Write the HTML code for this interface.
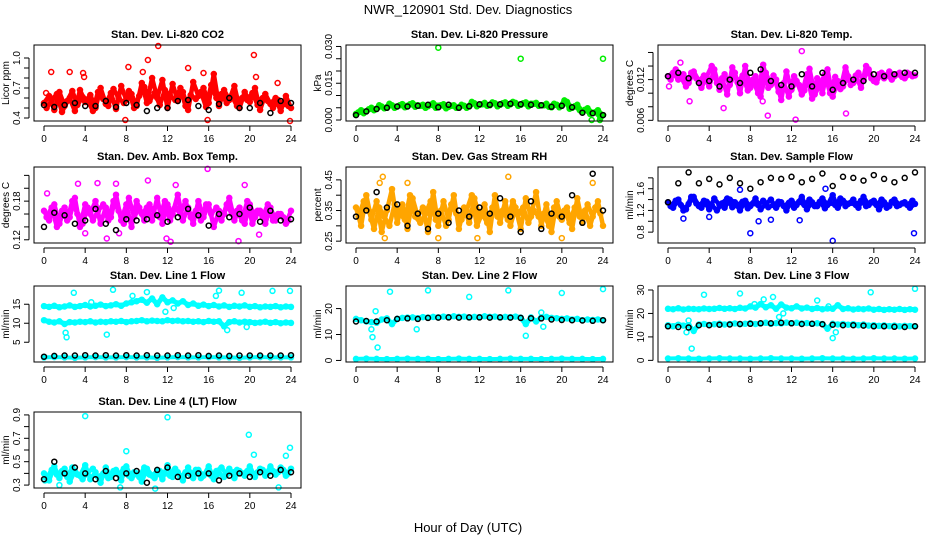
<!DOCTYPE html>
<html><head><meta charset="utf-8"><style>
html,body{margin:0;padding:0;background:#fff;}
svg{display:block;font-family:"Liberation Sans",Arial,sans-serif;}
</style></head><body>
<svg id="chart" width="936" height="540" viewBox="0 0 936 540" xmlns="http://www.w3.org/2000/svg">
<rect x="0" y="0" width="936" height="540" fill="#fff"/>
<text x="468" y="14" font-size="13" text-anchor="middle">NWR_120901  Std. Dev. Diagnostics</text>
<text x="468" y="532" font-size="13" text-anchor="middle">Hour of Day (UTC)</text>
</svg>
<script>
// ---- data arrays ----
const xTicks = [0,4,8,12,16,20,24];

const co2A = [0.55,0.62,0.48,0.66,0.52,0.60,0.47,0.68,0.56,0.63,0.50,0.70,0.54,0.65,0.49,0.72,0.58,0.64,0.52,0.75,0.55,0.80,0.60,0.78,0.50,0.74,0.57,0.66,0.48,0.76,0.62,0.70,0.55,0.84,0.52,0.68,0.58,0.72,0.50,0.66,0.56,0.70,0.48,0.64,0.54,0.60,0.47,0.62,0.50];
const co2B = [0.50,0.58,0.64,0.46,0.57,0.67,0.53,0.61,0.58,0.47,0.66,0.59,0.52,0.69,0.60,0.55,0.67,0.50,0.62,0.71,0.57,0.65,0.53,0.68,0.62,0.58,0.70,0.52,0.63,0.59,0.66,0.51,0.73,0.60,0.64,0.55,0.62,0.52,0.60,0.58,0.65,0.53,0.60,0.57,0.50,0.58,0.54,0.52];
const co2OutH = [0.7,2.5,3.8,3.9,8.2,9.6,10.1,11.1,14.0,15.5,20.4,20.6,22.7,7.9,15.9,23.9,0.2];
const co2OutV = [0.86,0.86,0.85,0.81,0.91,0.86,0.98,1.12,0.90,0.85,1.03,0.81,0.75,0.38,0.38,0.37,0.65];
const co2Blk = [0.53,0.51,0.53,0.55,0.52,0.52,0.57,0.51,0.55,0.53,0.47,0.50,0.50,0.57,0.58,0.52,0.48,0.54,0.60,0.50,0.50,0.55,0.45,0.57,0.55];

const prsA = [0.0025,0.0040,0.0035,0.0050,0.0045,0.0055,0.0050,0.0060,0.0055,0.0065,0.0058,0.0068,0.0060,0.0062,0.0056,0.0068,0.0058,0.0064,0.0054,0.0060,0.0052,0.0058,0.0055,0.0068,0.0062,0.0070,0.0060,0.0068,0.0062,0.0072,0.0064,0.0070,0.0062,0.0072,0.0066,0.0070,0.0060,0.0066,0.0052,0.0062,0.0058,0.0074,0.0050,0.0062,0.0035,0.0048,0.0030,0.0040,0.0020];
const prsB = [0.0032,0.0028,0.0044,0.0040,0.0060,0.0048,0.0066,0.0050,0.0060,0.0052,0.0064,0.0054,0.0058,0.0050,0.0062,0.0050,0.0060,0.0048,0.0058,0.0050,0.0062,0.0050,0.0074,0.0056,0.0064,0.0058,0.0072,0.0056,0.0068,0.0058,0.0074,0.0058,0.0068,0.0056,0.0066,0.0058,0.0060,0.0054,0.0066,0.0052,0.0080,0.0046,0.0056,0.0040,0.0042,0.0025,0.0032,0.0010];
const prsOutH = [8.0,16.0,24.0,22.9,23.7];
const prsOutV = [0.0295,0.0250,0.0250,0.0000,0.0000];
const prsBlk = [0.0020,0.0035,0.0045,0.0050,0.0055,0.0055,0.0058,0.0062,0.0052,0.0062,0.0050,0.0056,0.0064,0.0062,0.0064,0.0066,0.0064,0.0062,0.0060,0.0054,0.0058,0.0052,0.0030,0.0028,0.0020];

const tmpA = [0.0125,0.0130,0.0120,0.0128,0.0115,0.0132,0.0118,0.0126,0.0110,0.0135,0.0105,0.0128,0.0112,0.0130,0.0100,0.0140,0.0108,0.0125,0.0095,0.0130,0.0112,0.0120,0.0090,0.0132,0.0105,0.0118,0.0098,0.0128,0.0092,0.0122,0.0100,0.0135,0.0095,0.0118,0.0110,0.0125,0.0115,0.0130,0.0120,0.0135,0.0118,0.0128,0.0122,0.0132,0.0125,0.0130,0.0122,0.0128,0.0126];
const tmpB = [0.0120,0.0135,0.0124,0.0110,0.0130,0.0122,0.0108,0.0124,0.0140,0.0115,0.0122,0.0098,0.0138,0.0116,0.0126,0.0104,0.0120,0.0100,0.0142,0.0108,0.0126,0.0102,0.0115,0.0095,0.0125,0.0112,0.0104,0.0136,0.0098,0.0112,0.0128,0.0100,0.0124,0.0106,0.0138,0.0112,0.0126,0.0108,0.0140,0.0122,0.0116,0.0130,0.0126,0.0120,0.0128,0.0124,0.0130,0.0125];
const tmpOutH = [0.1,1.2,2.1,5.4,9.7,12.4,13.0,17.3,9.2];
const tmpOutV = [0.0110,0.0145,0.0088,0.0078,0.0067,0.0061,0.0162,0.0070,0.0088];
const tmpBlk = [0.0125,0.0130,0.0122,0.0115,0.0118,0.0110,0.0120,0.0115,0.0130,0.0135,0.0118,0.0112,0.0110,0.0128,0.0110,0.0130,0.0105,0.0115,0.0120,0.0118,0.0128,0.0125,0.0128,0.0130,0.0130];

const ambA = [0.165,0.150,0.175,0.145,0.170,0.155,0.185,0.140,0.175,0.160,0.180,0.145,0.170,0.155,0.190,0.150,0.175,0.140,0.180,0.160,0.170,0.150,0.185,0.145,0.175,0.160,0.190,0.150,0.170,0.145,0.180,0.155,0.175,0.140,0.165,0.160,0.185,0.150,0.170,0.145,0.175,0.155,0.165,0.145,0.170,0.150,0.160,0.145,0.165];
const ambB = [0.155,0.170,0.140,0.165,0.150,0.180,0.160,0.145,0.170,0.150,0.165,0.175,0.150,0.180,0.165,0.145,0.185,0.155,0.170,0.150,0.175,0.160,0.155,0.180,0.150,0.170,0.160,0.180,0.155,0.165,0.150,0.175,0.160,0.170,0.150,0.175,0.160,0.165,0.150,0.180,0.145,0.165,0.155,0.175,0.150,0.160,0.155,0.150];
const ambOutH = [0.3,3.3,5.2,7.0,10.1,12.8,15.9,19.5,6.1,11.9,12.3,18.9,20.9,7.3,4.0];
const ambOutV = [0.192,0.207,0.208,0.207,0.212,0.205,0.230,0.205,0.122,0.122,0.117,0.118,0.128,0.130,0.130];
const ambBlk = [0.140,0.162,0.158,0.145,0.150,0.168,0.145,0.135,0.152,0.150,0.152,0.158,0.148,0.155,0.168,0.158,0.142,0.160,0.155,0.160,0.170,0.148,0.165,0.150,0.152];

const rhA = [0.36,0.30,0.40,0.32,0.38,0.28,0.35,0.42,0.31,0.37,0.29,0.39,0.33,0.36,0.28,0.41,0.30,0.38,0.32,0.40,0.29,0.36,0.31,0.39,0.33,0.37,0.28,0.40,0.31,0.38,0.30,0.36,0.29,0.39,0.33,0.41,0.30,0.37,0.28,0.38,0.32,0.36,0.29,0.39,0.31,0.37,0.33,0.38,0.30];
const rhB = [0.33,0.38,0.35,0.29,0.36,0.33,0.30,0.37,0.34,0.32,0.40,0.33,0.31,0.34,0.38,0.32,0.35,0.30,0.37,0.34,0.32,0.35,0.40,0.30,0.34,0.31,0.36,0.33,0.35,0.32,0.38,0.34,0.36,0.31,0.35,0.33,0.34,0.30,0.36,0.33,0.35,0.31,0.36,0.33,0.35,0.30,0.36,0.34];
const rhOutH = [2.3,2.6,5.0,14.8,23.0,2.8,8.0,11.8,20.0];
const rhOutV = [0.44,0.46,0.44,0.46,0.44,0.26,0.26,0.26,0.26];
const rhBlk = [0.33,0.35,0.41,0.36,0.37,0.30,0.34,0.29,0.34,0.31,0.35,0.33,0.36,0.34,0.39,0.33,0.28,0.38,0.29,0.34,0.33,0.40,0.31,0.47,0.35];

const sfA = [1.35,1.25,1.40,1.20,1.32,1.45,1.28,1.38,1.22,1.42,1.30,1.25,1.40,1.35,1.20,1.38,1.28,1.42,1.22,1.32,1.40,1.25,1.35,1.20,1.38,1.30,1.45,1.22,1.35,1.28,1.42,1.30,1.48,1.25,1.38,1.32,1.40,1.25,1.45,1.30,1.38,1.22,1.35,1.28,1.40,1.30,1.35,1.25,1.32];
const sfB = [1.28,1.38,1.30,1.22,1.45,1.33,1.25,1.36,1.30,1.20,1.33,1.42,1.26,1.30,1.36,1.24,1.33,1.30,1.38,1.26,1.30,1.36,1.28,1.34,1.25,1.36,1.30,1.40,1.28,1.36,1.24,1.34,1.30,1.42,1.28,1.34,1.30,1.38,1.28,1.35,1.30,1.40,1.25,1.36,1.28,1.33,1.30,1.38];
const sfOutH = [1.5,4.0,8.0,8.8,10.0,12.8,16.0,23.9,7.0,15.3];
const sfOutV = [1.05,1.08,0.78,1.0,1.03,1.02,0.64,0.78,1.58,1.60];
const sfBlk = [1.35,1.70,1.90,1.70,1.78,1.68,1.80,1.70,1.60,1.72,1.80,1.78,1.82,1.72,1.78,1.88,1.65,1.82,1.80,1.75,1.85,1.78,1.72,1.80,1.90];

const l1A = [14.5,14.3,14.6,14.2,14.4,14.7,14.3,14.5,14.8,14.4,14.6,14.9,14.5,14.7,15.0,14.6,15.2,15.5,15.8,16.2,15.4,16.5,15.0,16.8,15.5,16.0,15.2,15.8,14.8,15.2,14.6,14.9,14.5,14.8,14.4,14.7,14.3,14.6,14.4,14.7,14.3,14.5,14.2,14.4,14.3,14.5,14.2,14.4,14.3];
const l1B = [10.8,10.4,10.2,10.5,9.8,10.3,10.2,10.4,10.3,10.5,10.2,10.4,10.3,10.5,10.4,10.6,10.3,10.5,10.6,10.8,10.5,10.7,10.6,10.5,10.8,10.6,10.7,10.5,10.6,10.4,10.5,10.3,10.6,10.4,10.5,9.2,10.3,10.5,10.2,10.4,10.3,10.1,10.2,10.4,10.1,10.3,10.0,10.2,10.1];
const l1C = [1.0,1.1,1.0,0.9,1.0,1.1,1.0,1.0,1.1,1.0,1.0,0.9,1.0,1.1,1.0,1.0,1.1,1.0,1.0,0.9,1.0,1.1,1.0,1.0,1.0];
const l1OutH = [2.1,2.2,2.9,4.6,6.1,6.7,8.6,10.0,11.8,12.6,16.7,17.0,19.2,22.2,23.9,17.8,19.7];
const l1OutV = [7.5,6.3,18.0,15.5,7.0,18.8,17.2,18.2,13.0,14.0,17.2,18.6,18.0,18.5,18.5,8.2,9.0];
const l1Blk = [1.2,1.4,1.5,1.5,1.6,1.5,1.6,1.5,1.6,1.5,1.6,1.5,1.5,1.6,1.5,1.6,1.4,1.5,1.4,1.5,1.5,1.5,1.5,1.5,1.6];

const l2A = [16.0,15.5,15.0,14.8,14.5,15.8,16.2,14.0,16.0,16.4,16.5,16.6,16.3,16.7,16.5,16.8,16.6,16.9,16.7,17.0,16.8,16.9,16.6,16.8,16.7,17.0,16.8,16.9,16.6,16.8,16.7,16.9,16.5,14.0,16.6,15.0,16.5,16.8,16.4,16.3,16.0,16.2,15.8,16.0,15.5,15.8,15.6,15.8,15.5];
const l2C = [0.6,0.7,0.6,0.5,0.6,0.7,0.6,0.6,0.5,0.6,0.7,0.6,0.6,0.5,0.6,0.7,0.6,0.6,0.5,0.6,0.7,0.6,0.6,0.5,0.6];
const l2OutH = [1.5,1.6,1.9,2.1,3.3,5.9,7.0,11.0,14.8,16.5,18.0,18.2,20.0,24.0];
const l2OutV = [12,9,19,5,26.5,12,27,24.5,27,9.5,18.5,13,26,27.5];
const l2Blk = [15.0,15.2,15.0,15.5,16.0,16.2,16.0,16.4,16.5,16.6,16.5,16.6,16.6,16.5,16.6,16.5,16.4,16.3,16.2,15.8,15.6,15.5,15.4,15.3,15.5];

const l3A = [22.0,21.8,22.2,21.7,22.0,21.9,21.8,22.1,21.9,22.0,22.3,22.0,22.2,21.9,22.4,22.1,23.0,22.5,24.0,22.6,23.5,22.0,23.8,22.5,22.2,23.0,22.1,22.5,21.9,22.3,21.8,22.1,22.0,23.5,21.9,22.2,21.7,22.0,21.8,22.1,21.6,21.9,21.5,21.8,21.6,21.9,21.5,21.8,21.6];
const l3B = [15.0,14.5,15.2,14.8,15.0,12.5,15.3,15.5,15.1,15.4,15.6,15.3,15.5,15.7,15.4,15.6,15.8,15.5,15.7,16.0,15.6,15.9,15.7,16.1,15.8,16.0,15.7,15.9,15.6,15.8,15.5,13.5,15.6,15.3,15.5,15.2,15.4,15.0,15.3,14.8,15.0,14.7,14.9,14.6,14.8,14.5,14.7,14.6,14.5];
const l3C = [0.8,0.9,0.8,0.7,0.8,0.9,0.8,0.8,0.7,0.8,0.9,0.8,0.8,0.7,0.8,0.9,0.8,0.8,0.7,0.8,0.9,0.8,0.8,0.7,0.8];
const l3OutH = [1.8,2.0,2.3,3.5,7.0,8.4,9.3,10.2,10.8,11.2,14.5,15.6,16.0,16.3,19.7,24.0];
const l3OutV = [12,17,5,28,28.5,24,26,27,18.5,20,25.5,23,9.5,12,29,30.5];
const l3Blk = [14.5,14.2,14.0,15.0,15.0,15.2,15.3,15.5,15.6,15.8,15.8,16.0,15.8,15.5,15.6,15.4,15.2,15.0,15.0,14.8,14.5,14.5,14.3,14.2,14.5];

const l4A = [0.40,0.34,0.46,0.36,0.44,0.33,0.42,0.38,0.47,0.35,0.41,0.32,0.45,0.37,0.43,0.34,0.46,0.36,0.40,0.33,0.44,0.38,0.42,0.35,0.47,0.37,0.41,0.34,0.45,0.36,0.43,0.38,0.46,0.35,0.40,0.37,0.44,0.36,0.42,0.38,0.46,0.37,0.44,0.38,0.46,0.39,0.45,0.38,0.44];
const l4B = [0.36,0.43,0.39,0.42,0.37,0.45,0.39,0.35,0.41,0.44,0.37,0.40,0.36,0.42,0.39,0.44,0.38,0.41,0.37,0.45,0.39,0.36,0.42,0.40,0.38,0.44,0.37,0.41,0.39,0.43,0.36,0.40,0.38,0.42,0.45,0.39,0.41,0.43,0.40,0.42,0.39,0.41,0.43,0.40,0.42,0.41,0.43,0.40];
const l4OutH = [4.0,12.0,19.9,23.9,8.0,20.4,1.5,7.4,10.8,22.8,0.1,23.5];
const l4OutV = [0.89,0.88,0.73,0.62,0.59,0.56,0.30,0.28,0.27,0.28,0.34,0.55];
const l4Blk = [0.35,0.50,0.40,0.45,0.40,0.35,0.42,0.36,0.40,0.42,0.32,0.43,0.45,0.37,0.38,0.40,0.40,0.34,0.38,0.40,0.37,0.41,0.38,0.43,0.41];

// ---- rendering ----
const NS = "http://www.w3.org/2000/svg";
const svg = document.getElementById('chart');
function mk(tag, attrs, parent){ const e=document.createElementNS(NS,tag); for(const k in attrs) e.setAttribute(k,attrs[k]); (parent||svg).appendChild(e); return e; }

const colsX = [34, 346, 658];
const rowsY = [45, 167, 286, 412];
const PW = 267, PH = 76;

function halfHours(n, off){ const h=[]; for(let i=0;i<n;i++) h.push(i*0.5+off); return h; }
function wholeHours(n){ const h=[]; for(let i=0;i<n;i++) h.push(i*24/(n-1)); return h; }

const panels = [
 {slug:'co2', title:'Stan. Dev. Li-820 CO2', ylab:'Licor ppm', col:0,row:0, ymin:0.37, ymax:1.13, ticks:[0.4,0.5,0.6,0.7,0.8,0.9,1.0], labels:[0.4,0.7,1.0], fmt:v=>v.toFixed(1), color:'#ff0000', A:co2A,B:co2B, oh:co2OutH, ov:co2OutV, blk:co2Blk},
 {slug:'pressure', title:'Stan. Dev. Li-820 Pressure', ylab:'kPa', col:1,row:0, ymin:-0.0004, ymax:0.0306, ticks:[0,0.005,0.01,0.015,0.02,0.025,0.03], labels:[0,0.015,0.03], fmt:v=>v.toFixed(3), color:'#00ee00', A:prsA,B:prsB, oh:prsOutH, ov:prsOutV, blk:prsBlk},
 {slug:'li820-temp', title:'Stan. Dev. Li-820 Temp.', ylab:'degrees C', col:2,row:0, ymin:0.0059, ymax:0.0171, ticks:[0.006,0.008,0.010,0.012,0.014,0.016], labels:[0.006,0.012], fmt:v=>v.toFixed(3), color:'#ff00ff', A:tmpA,B:tmpB, oh:tmpOutH, ov:tmpOutV, blk:tmpBlk},
 {slug:'amb-box-temp', title:'Stan. Dev. Amb. Box Temp.', ylab:'degrees C', col:0,row:1, ymin:0.115, ymax:0.233, ticks:[0.12,0.14,0.16,0.18,0.20,0.22], labels:[0.12,0.18], fmt:v=>v.toFixed(2), color:'#ff00ff', A:ambA,B:ambB, oh:ambOutH, ov:ambOutV, blk:ambBlk},
 {slug:'gas-rh', title:'Stan. Dev. Gas Stream RH', ylab:'percent', col:1,row:1, ymin:0.244, ymax:0.492, ticks:[0.25,0.30,0.35,0.40,0.45], labels:[0.25,0.35,0.45], fmt:v=>v.toFixed(2), color:'#ffa500', A:rhA,B:rhB, oh:rhOutH, ov:rhOutV, blk:rhBlk},
 {slug:'sample-flow', title:'Stan. Dev. Sample Flow', ylab:'ml/min', col:2,row:1, ymin:0.6, ymax:2.0, ticks:[0.8,1.0,1.2,1.4,1.6,1.8], labels:[0.8,1.2,1.6], fmt:v=>v.toFixed(1), color:'#0000ff', A:sfA,B:sfB, oh:sfOutH, ov:sfOutV, blk:sfBlk},
 {slug:'line1-flow', title:'Stan. Dev. Line 1 Flow', ylab:'ml/min', col:0,row:2, ymin:-0.2, ymax:19.8, ticks:[5,10,15], labels:[5,10,15], fmt:v=>String(v), color:'#00ffff', A:l1A,B:l1B,C:l1C, oh:l1OutH, ov:l1OutV, blk:l1Blk, band:true},
 {slug:'line2-flow', title:'Stan. Dev. Line 2 Flow', ylab:'ml/min', col:1,row:2, ymin:-0.6, ymax:28.7, ticks:[0,10,20], labels:[0,10,20], fmt:v=>String(v), color:'#00ffff', A:l2A,C:l2C, oh:l2OutH, ov:l2OutV, blk:l2Blk, band:true},
 {slug:'line3-flow', title:'Stan. Dev. Line 3 Flow', ylab:'ml/min', col:2,row:2, ymin:-0.7, ymax:31.7, ticks:[0,10,20,30], labels:[0,10,20,30], fmt:v=>String(v), color:'#00ffff', A:l3A,B:l3B,C:l3C, oh:l3OutH, ov:l3OutV, blk:l3Blk, band:true},
 {slug:'line4-flow', title:'Stan. Dev. Line 4 (LT) Flow', ylab:'ml/min', col:0,row:3, ymin:0.275, ymax:0.925, ticks:[0.3,0.4,0.5,0.6,0.7,0.8,0.9], labels:[0.3,0.5,0.7,0.9], fmt:v=>v.toFixed(1), color:'#00ffff', A:l4A,B:l4B, oh:l4OutH, ov:l4OutV, blk:l4Blk}
];

panels.forEach(p=>{
  const x0=colsX[p.col], y0=rowsY[p.row];
  const g = mk('g',{});
  
  
  const xs = h => x0 + 10 + h/24*(PW-20);
  const ys = v => y0 + PH - (v - p.ymin)/(p.ymax - p.ymin)*PH;

  const t = mk('text',{x:x0+PW/2, y:y0-7, 'font-size':11, 'font-weight':'bold','text-anchor':'middle'}, g);
  t.textContent = p.title;
  
  

  const yl = mk('text',{x:0,y:0,'font-size':10,'text-anchor':'middle',transform:`translate(${x0-25},${y0+PH/2}) rotate(-90)`}, g);
  yl.textContent = p.ylab;
  
  

  const mg = mk('g',{fill:'none','stroke-width':1.5}, g);
  
  
  function dots(hs, vs, color, r){
    vs.forEach((v,i)=>{
      const c = mk('circle',{cx:xs(hs[i]).toFixed(1), cy:ys(v).toFixed(1), r:r, stroke:color}, mg);
      
      
    });
  }
  function bandLine(hs, vs, color, w){
    const d = vs.map((v,i)=>(i?'L':'M')+xs(hs[i]).toFixed(1)+' '+ys(v).toFixed(1)).join('');
    const pl = mk('path',{d:d, stroke:color, 'stroke-width':w, fill:'none','stroke-linejoin':'round','stroke-linecap':'round'}, mg);
    
    
  }
  const hA = halfHours(p.A.length,0);
  const hB = p.B ? (p.band ? halfHours(p.B.length,0) : halfHours(p.B.length,0.25)) : null;
  bandLine(hA, p.A, p.color, p.band?5:4.5);
  if(p.B) bandLine(hB, p.B, p.color, p.band?5:4.5);
  if(p.C) bandLine(wholeHours(p.C.length), p.C, p.color, 4);
  dots(hA, p.A, p.color, 2.5);
  if(p.B) dots(hB, p.B, p.color, 2.5);
  if(p.C) dots(wholeHours(p.C.length), p.C, p.color, 2.5);
  dots(p.oh, p.ov, p.color, 2.5);
  dots(wholeHours(p.blk.length), p.blk, '#000', 2.5);

  const fr = mk('rect',{x:x0,y:y0,width:PW,height:PH,fill:'none',stroke:'#000','stroke-width':1}, g);
  
  

  const xa = mk('g',{}, g);
  
  
  mk('line',{x1:xs(0),x2:xs(24),y1:y0+PH+5,y2:y0+PH+5,stroke:'#000'}, xa);
  xTicks.forEach(h=>{
    mk('line',{x1:xs(h),x2:xs(h),y1:y0+PH+5,y2:y0+PH+10,stroke:'#000'}, xa);
    const tl = mk('text',{x:xs(h), y:y0+PH+21, 'font-size':10,'text-anchor':'middle'}, xa);
    tl.textContent = h;
    
    
  });

  const ya = mk('g',{}, g);
  
  
  const tv = p.ticks;
  mk('line',{x1:x0-5,x2:x0-5,y1:ys(tv[0]),y2:ys(tv[tv.length-1]),stroke:'#000'}, ya);
  tv.forEach(v=>{
    mk('line',{x1:x0-10,x2:x0-5,y1:ys(v),y2:ys(v),stroke:'#000'}, ya);
  });
  p.labels.forEach(v=>{
    const tl = mk('text',{x:0,y:0,'font-size':10,'text-anchor':'middle',transform:`translate(${x0-14},${ys(v)}) rotate(-90)`}, ya);
    tl.textContent = p.fmt(v);
    
    
  });
});
</script>
</body></html>
